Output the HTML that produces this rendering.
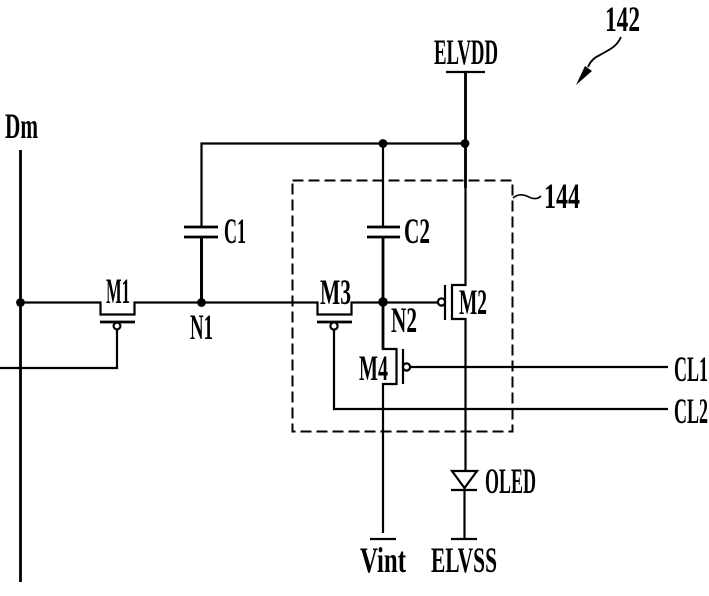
<!DOCTYPE html>
<html>
<head>
<meta charset="utf-8">
<style>
html,body{margin:0;padding:0;background:#fff;}
svg{display:block;}
text{font-family:"Liberation Serif",serif;font-weight:bold;fill:#000;font-size:36px;}
</style>
</head>
<body>
<svg width="709" height="596" viewBox="0 0 709 596" xmlns="http://www.w3.org/2000/svg">
<g fill="none" stroke="#000" stroke-width="2.2">
  <!-- Dm -->
  <path d="M20.5 150V582" stroke-width="2.8"/>
  <!-- M1 -->
  <path d="M20 302.5H100.5V314.5H134.5V302.5H317.5V314.5H351.5V302.5H438"/>
  <path d="M100 322H135M317 322H352" stroke-width="2.8"/>
  <circle cx="117" cy="326" r="3.4"/>
  <path d="M117 329.5V368H0"/>
  <!-- C1 and top rail -->
  <path d="M201.5 227V143.5H465"/>
  <path d="M201.5 302V238" stroke-width="3"/>
  <path d="M184 227H218M184 237H218" stroke-width="2.8"/>
  <!-- C2 -->
  <path d="M383 143V227M383 237V349H396.5V384H383V533"/>
  <path d="M383 237V349" stroke-width="2.8"/>
  <path d="M367 227H400M367 237H400" stroke-width="2.8"/>
  <!-- ELVDD / M2 / OLED -->
  <path d="M446 72H485"/>
  <path d="M465.5 72V285H452V319H465.5V471M464.5 488V539"/>
  <path d="M465.5 72V188" stroke-width="2.8"/>
  <path d="M445 285V320" stroke-width="2.2"/>
  <circle cx="441.5" cy="302" r="3.6"/>
  <!-- M3 gate line, CL2 -->
  <circle cx="334" cy="326" r="3.6"/>
  <path d="M334 330V409H668"/>
  <!-- M4 gate, CL1 -->
  <path d="M403 349V384" stroke-width="2.2"/>
  <circle cx="406.5" cy="367" r="3.6"/>
  <path d="M410 367H668"/>
  <!-- diode -->
  <path d="M452 471H477L464.5 488Z"/>
  <path d="M451 490H477"/>
  <!-- rails at bottom -->
  <path d="M370 539H396M451 539H477"/>
  <!-- dashed box -->
  <rect x="292.5" y="180.5" width="220" height="251" stroke-width="2" stroke-dasharray="11 5"/>
  <!-- leader 144 -->
  <path d="M513 198C520 192 527 196 531 198C535 199 538 199 541 196" stroke-width="1.6"/>
  <!-- leader 142 -->
  <path d="M621 37C616 48 608 50 600 55C593 58 590 62 588 67" stroke-width="1.8"/>
</g>
<path d="M576 85L585 66L592 71Z" fill="#000"/>
<g fill="#000">
  <circle cx="20.5" cy="302.5" r="4.4"/>
  <circle cx="201.5" cy="302.5" r="4.4"/>
  <circle cx="383" cy="302" r="4.8"/>
  <circle cx="383" cy="143.5" r="4.4"/>
  <circle cx="465" cy="143.5" r="4.4"/>
</g>
<text x="605" y="31" textLength="35" lengthAdjust="spacingAndGlyphs">142</text>
<text x="434" y="64" textLength="64" lengthAdjust="spacingAndGlyphs">ELVDD</text>
<text x="5" y="138" textLength="33" lengthAdjust="spacingAndGlyphs">Dm</text>
<text x="224" y="243" textLength="22" lengthAdjust="spacingAndGlyphs">C1</text>
<text x="404" y="243" textLength="26" lengthAdjust="spacingAndGlyphs">C2</text>
<text x="544" y="208" textLength="36" lengthAdjust="spacingAndGlyphs">144</text>
<text x="106" y="303" textLength="24" lengthAdjust="spacingAndGlyphs">M1</text>
<text x="190" y="339" textLength="23" lengthAdjust="spacingAndGlyphs">N1</text>
<text x="320" y="304" textLength="31" lengthAdjust="spacingAndGlyphs">M3</text>
<text x="391" y="332" textLength="26" lengthAdjust="spacingAndGlyphs">N2</text>
<text x="459" y="314" textLength="28" lengthAdjust="spacingAndGlyphs">M2</text>
<text x="359" y="380" textLength="29" lengthAdjust="spacingAndGlyphs">M4</text>
<text x="674" y="381" textLength="34" lengthAdjust="spacingAndGlyphs">CL1</text>
<text x="674" y="423" textLength="34" lengthAdjust="spacingAndGlyphs">CL2</text>
<text x="485" y="493" textLength="51" lengthAdjust="spacingAndGlyphs">OLED</text>
<text x="360" y="572" textLength="46" lengthAdjust="spacingAndGlyphs">Vint</text>
<text x="431" y="572" textLength="66" lengthAdjust="spacingAndGlyphs">ELVSS</text>
</svg>
</body>
</html>
